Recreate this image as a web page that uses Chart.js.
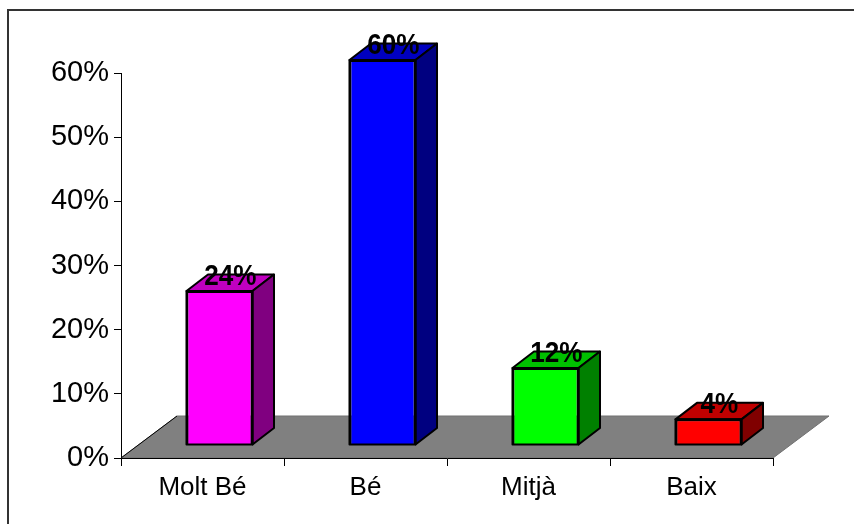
<!DOCTYPE html>
<html>
<head>
<meta charset="utf-8">
<script src="https://cdn.jsdelivr.net/npm/chart.js@4/dist/chart.umd.min.js"></script>
<style>
  html, body { margin: 0; padding: 0; background: #fff; }
  #wrap { width: 854px; height: 524px; position: relative; }
</style>
</head>
<body>
<div id="wrap"><canvas id="c" width="854" height="524"></canvas></div>
<script>
const categories = ['Molt Bé', 'Bé', 'Mitjà', 'Baix'];
const values = [0.24, 0.60, 0.12, 0.04];
const valueLabels = ['24%', '60%', '12%', '4%'];
const frontColors = ['#FF00FF', '#0000FF', '#00FF00', '#FF0000'];
const topColors = ['#C000C0', '#0000C0', '#00C000', '#C00000'];
const sideColors = ['#800080', '#000080', '#008000', '#800000'];

const FONT = '"Liberation Sans", Arial, Helvetica, sans-serif';
// 3D geometry (styling)
const FLOOR_DX = 56, FLOOR_DY = -42;   // floor depth
const BAR_DX = 17, BAR_DY = -13;       // front face offset into depth
const DEP_DX = 21.5, DEP_DY = -16.5;   // bar depth

const threeD = {
  id: 'threeD',
  beforeDraw(chart) {
    const ctx = chart.ctx;
    ctx.save();
    ctx.fillStyle = '#fff';
    ctx.fillRect(0, 0, chart.width, chart.height);
    // outer frame
    ctx.strokeStyle = '#333';
    ctx.lineWidth = 2;
    ctx.strokeRect(8, 10, 900, 600);
    // floor
    const xs = chart.scales.x, ys = chart.scales.y;
    const y0 = ys.getPixelForValue(0);
    const l = xs.left, r = xs.right;
    ctx.beginPath();
    ctx.moveTo(l, y0);
    ctx.lineTo(r, y0);
    ctx.lineTo(r + FLOOR_DX, y0 + FLOOR_DY);
    ctx.lineTo(l + FLOOR_DX, y0 + FLOOR_DY);
    ctx.closePath();
    ctx.fillStyle = '#808080';
    ctx.fill();
    ctx.strokeStyle = '#707070';
    ctx.lineWidth = 1;
    ctx.stroke();
    ctx.beginPath();
    ctx.moveTo(l, y0);
    ctx.lineTo(l + FLOOR_DX, y0 + FLOOR_DY);
    ctx.strokeStyle = '#000';
    ctx.stroke();
    ctx.restore();
  },
  beforeDatasetDraw(chart) {
    chart.ctx.save();
    chart.ctx.translate(BAR_DX, BAR_DY);
  },
  afterDatasetDraw(chart, args) {
    const ctx = chart.ctx;
    ctx.restore();
    const meta = args.meta;
    ctx.save();
    ctx.lineWidth = 2;
    ctx.strokeStyle = '#000';
    ctx.lineJoin = 'round';
    meta.data.forEach((bar, i) => {
      const p = bar.getProps(['x', 'y', 'base', 'width'], true);
      const x1 = p.x - p.width / 2 + BAR_DX;
      const x2 = p.x + p.width / 2 + BAR_DX;
      const yt = p.y + BAR_DY;
      const yb = p.base + BAR_DY;
      // top face
      ctx.beginPath();
      ctx.moveTo(x1, yt);
      ctx.lineTo(x2, yt);
      ctx.lineTo(x2 + DEP_DX, yt + DEP_DY);
      ctx.lineTo(x1 + DEP_DX, yt + DEP_DY);
      ctx.closePath();
      ctx.fillStyle = topColors[i];
      ctx.fill();
      ctx.stroke();
      // side face
      ctx.beginPath();
      ctx.moveTo(x2, yt);
      ctx.lineTo(x2 + DEP_DX, yt + DEP_DY);
      ctx.lineTo(x2 + DEP_DX, yb + DEP_DY);
      ctx.lineTo(x2, yb);
      ctx.closePath();
      ctx.fillStyle = sideColors[i];
      ctx.fill();
      ctx.stroke();
      // front outline redraw
      ctx.strokeRect(x1, yt, x2 - x1, yb - yt);
    });
    ctx.restore();
  },
  afterDatasetsDraw(chart) {
    const ctx = chart.ctx;
    const meta = chart.getDatasetMeta(0);
    meta.data.forEach((bar, i) => {
      const p = bar.getProps(['x', 'y'], true);
      const cx = p.x + BAR_DX + DEP_DX / 2;
      const cy = p.y + BAR_DY + DEP_DY / 2;
      ctx.save();
      ctx.translate(cx, cy + 2);
      ctx.scale(0.9, 1);
      ctx.font = 'bold 29px ' + FONT;
      ctx.fillStyle = '#000';
      ctx.textAlign = 'center';
      ctx.textBaseline = 'alphabetic';
      ctx.fillText(valueLabels[i], 0, 0);
      ctx.restore();
    });
  }
};

new Chart(document.getElementById('c'), {
  type: 'bar',
  data: {
    labels: categories,
    datasets: [{
      data: values,
      backgroundColor: frontColors,
      borderColor: '#000',
      borderWidth: 2,
      barPercentage: 0.405,
      categoryPercentage: 1,
      clip: false
    }]
  },
  options: {
    responsive: false,
    animation: false,
    events: [],
    layout: { padding: { left: 0, right: 81, top: 73, bottom: 0 } },
    plugins: { legend: { display: false }, tooltip: { enabled: false } },
    scales: {
      x: {
        grid: { display: true, drawOnChartArea: false, tickLength: 8, color: '#000', offset: true },
        border: { display: true, color: '#000', width: 1 },
        ticks: { font: { family: FONT, size: 26 }, color: '#000', padding: 6 },
        afterFit(scale) { scale.height = 66; }
      },
      y: {
        min: 0, max: 0.6,
        grid: { display: true, drawOnChartArea: false, tickLength: 7, color: '#000' },
        border: { display: true, color: '#000', width: 1 },
        ticks: {
          stepSize: 0.1,
          font: { family: FONT, size: 29 },
          color: '#000',
          padding: 5,
          callback: (v) => Math.round(v * 100) + '%'
        },
        afterFit(scale) { scale.width = 121; }
      }
    }
  },
  plugins: [threeD]
});
</script>
</body>
</html>
